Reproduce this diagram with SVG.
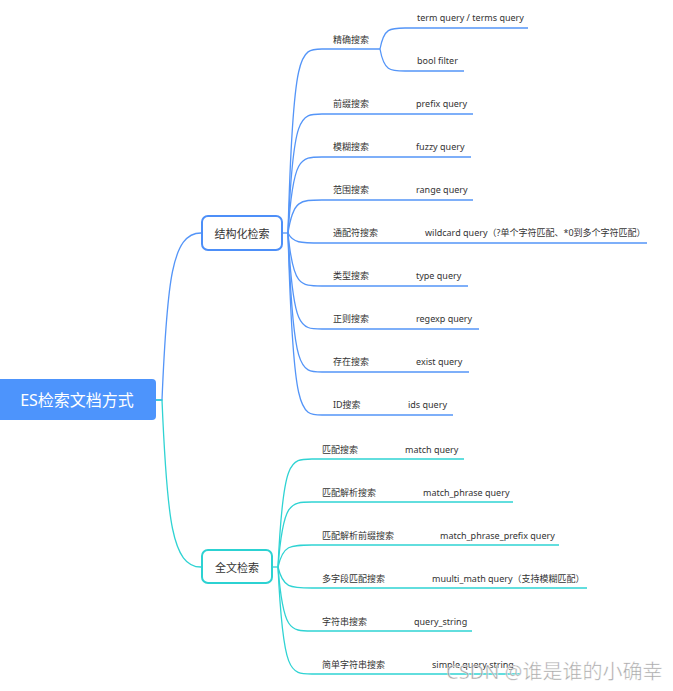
<svg xmlns="http://www.w3.org/2000/svg" width="673" height="691" viewBox="0 0 673 691">
<style>
text{font-family:"Noto Sans","Noto Sans CJK SC",sans-serif;fill:#333;dominant-baseline:central}
.l{font-size:9px}
.mid{font-size:11px;text-anchor:middle}
.b{fill:none;stroke:#5495f8;stroke-width:1.3}
.c{fill:none;stroke:#2fd3d3;stroke-width:1.3}
.wm{font-family:"Noto Sans","Noto Sans CJK SC",sans-serif;font-size:20px;fill:#8a8a8a;fill-opacity:0.75;stroke:#fff;stroke-width:0.6;stroke-opacity:0.8}
</style>
<rect width="673" height="691" fill="#fff"/>
<g id="connectors">
  <path class="b" d="M156,400 H162 C167,280 172,233 201,233"/>
  <path class="c" d="M156,400 H162 C167,520 172,567 201,567"/>
  <g id="struct-links">
    <path class="b" d="M282,233 H288"/>
    <path class="b" d="M288,233 C293,49 300,49 322,49 H380"/>
    <path class="b" d="M380,49 C384,28 390,28 405,28 H528"/>
    <path class="b" d="M380,49 C384,71 390,71 405,71 H464"/>
    <path class="b" d="M288,233 C293,114 300,114 322,114 H473"/>
    <path class="b" d="M288,233 C293,157 300,157 322,157 H471"/>
    <path class="b" d="M288,233 C293,200 300,200 322,200 H473"/>
    <path class="b" d="M288,233 C293,243 300,243 322,243 H647"/>
    <path class="b" d="M288,233 C293,286 300,286 322,286 H468"/>
    <path class="b" d="M288,233 C293,329 300,329 322,329 H479"/>
    <path class="b" d="M288,233 C293,372 300,372 322,372 H469"/>
    <path class="b" d="M288,233 C293,415 300,415 322,415 H453"/>
  </g>
  <g id="fulltext-links">
    <path class="c" d="M272,567 H278"/>
    <path class="c" d="M278,567 C283,459 290,459 312,459 H464"/>
    <path class="c" d="M278,567 C283,502 290,502 312,502 H513"/>
    <path class="c" d="M278,567 C283,545 290,545 312,545 H559"/>
    <path class="c" d="M278,567 C283,588 290,588 312,588 H587"/>
    <path class="c" d="M278,567 C283,631 290,631 312,631 H472"/>
    <path class="c" d="M278,567 C283,674 290,674 312,674 H520"/>
  </g>
</g>
<g id="root">
  <rect x="-6" y="379" width="162" height="41" rx="4" fill="#4d94fc"/>
  <text x="77" y="400" style="font-size:16px;fill:#fff;text-anchor:middle">ES检索文档方式</text>
</g>
<g id="structured">
  <rect x="202" y="216" width="80" height="34" rx="6" fill="#fff" stroke="#4d8ff8" stroke-width="2"/>
  <text class="mid" x="242" y="233">结构化检索</text>
</g>
<g id="fulltext">
  <rect x="202" y="550" width="70" height="33" rx="6" fill="#fff" stroke="#2cd2d2" stroke-width="2"/>
  <text class="mid" x="237" y="567">全文检索</text>
</g>
<g id="s1"><text class="l" x="333" y="39">精确搜索</text></g>
<g id="s1a"><text class="l" x="417" y="17">term query / terms query</text></g>
<g id="s1b"><text class="l" x="417" y="60">bool filter</text></g>
<g id="s2"><text class="l" x="333" y="103">前缀搜索</text></g>
<g id="s2a"><text class="l" x="416" y="103">prefix query</text></g>
<g id="s3"><text class="l" x="333" y="146">模糊搜索</text></g>
<g id="s3a"><text class="l" x="416" y="146">fuzzy query</text></g>
<g id="s4"><text class="l" x="333" y="189">范围搜索</text></g>
<g id="s4a"><text class="l" x="416" y="189">range query</text></g>
<g id="s5"><text class="l" x="333" y="232">通配符搜索</text></g>
<g id="s5a"><text class="l" x="425" y="232">wildcard query（?单个字符匹配、*0到多个字符匹配）</text></g>
<g id="s6"><text class="l" x="333" y="275">类型搜索</text></g>
<g id="s6a"><text class="l" x="416" y="275">type query</text></g>
<g id="s7"><text class="l" x="333" y="318">正则搜索</text></g>
<g id="s7a"><text class="l" x="416" y="318">regexp query</text></g>
<g id="s8"><text class="l" x="333" y="361">存在搜索</text></g>
<g id="s8a"><text class="l" x="416" y="361">exist query</text></g>
<g id="s9"><text class="l" x="333" y="404">ID搜索</text></g>
<g id="s9a"><text class="l" x="408" y="404">ids query</text></g>
<g id="f1"><text class="l" x="322" y="449">匹配搜索</text></g>
<g id="f1a"><text class="l" x="405" y="449">match query</text></g>
<g id="f2"><text class="l" x="322" y="492">匹配解析搜索</text></g>
<g id="f2a"><text class="l" x="423" y="492">match_phrase query</text></g>
<g id="f3"><text class="l" x="322" y="535">匹配解析前缀搜索</text></g>
<g id="f3a"><text class="l" x="440" y="535">match_phrase_prefix query</text></g>
<g id="f4"><text class="l" x="322" y="578">多字段匹配搜索</text></g>
<g id="f4a"><text class="l" x="432" y="578">muulti_math query（支持模糊匹配）</text></g>
<g id="f5"><text class="l" x="322" y="621">字符串搜索</text></g>
<g id="f5a"><text class="l" x="414" y="621">query_string</text></g>
<g id="f6"><text class="l" x="322" y="664">简单字符串搜索</text></g>
<g id="f6a"><text class="l" x="432" y="664">simple query string</text></g>
<text class="wm" x="446" y="679" style="dominant-baseline:auto">CSDN @谁是谁的小确幸</text>
</svg>
